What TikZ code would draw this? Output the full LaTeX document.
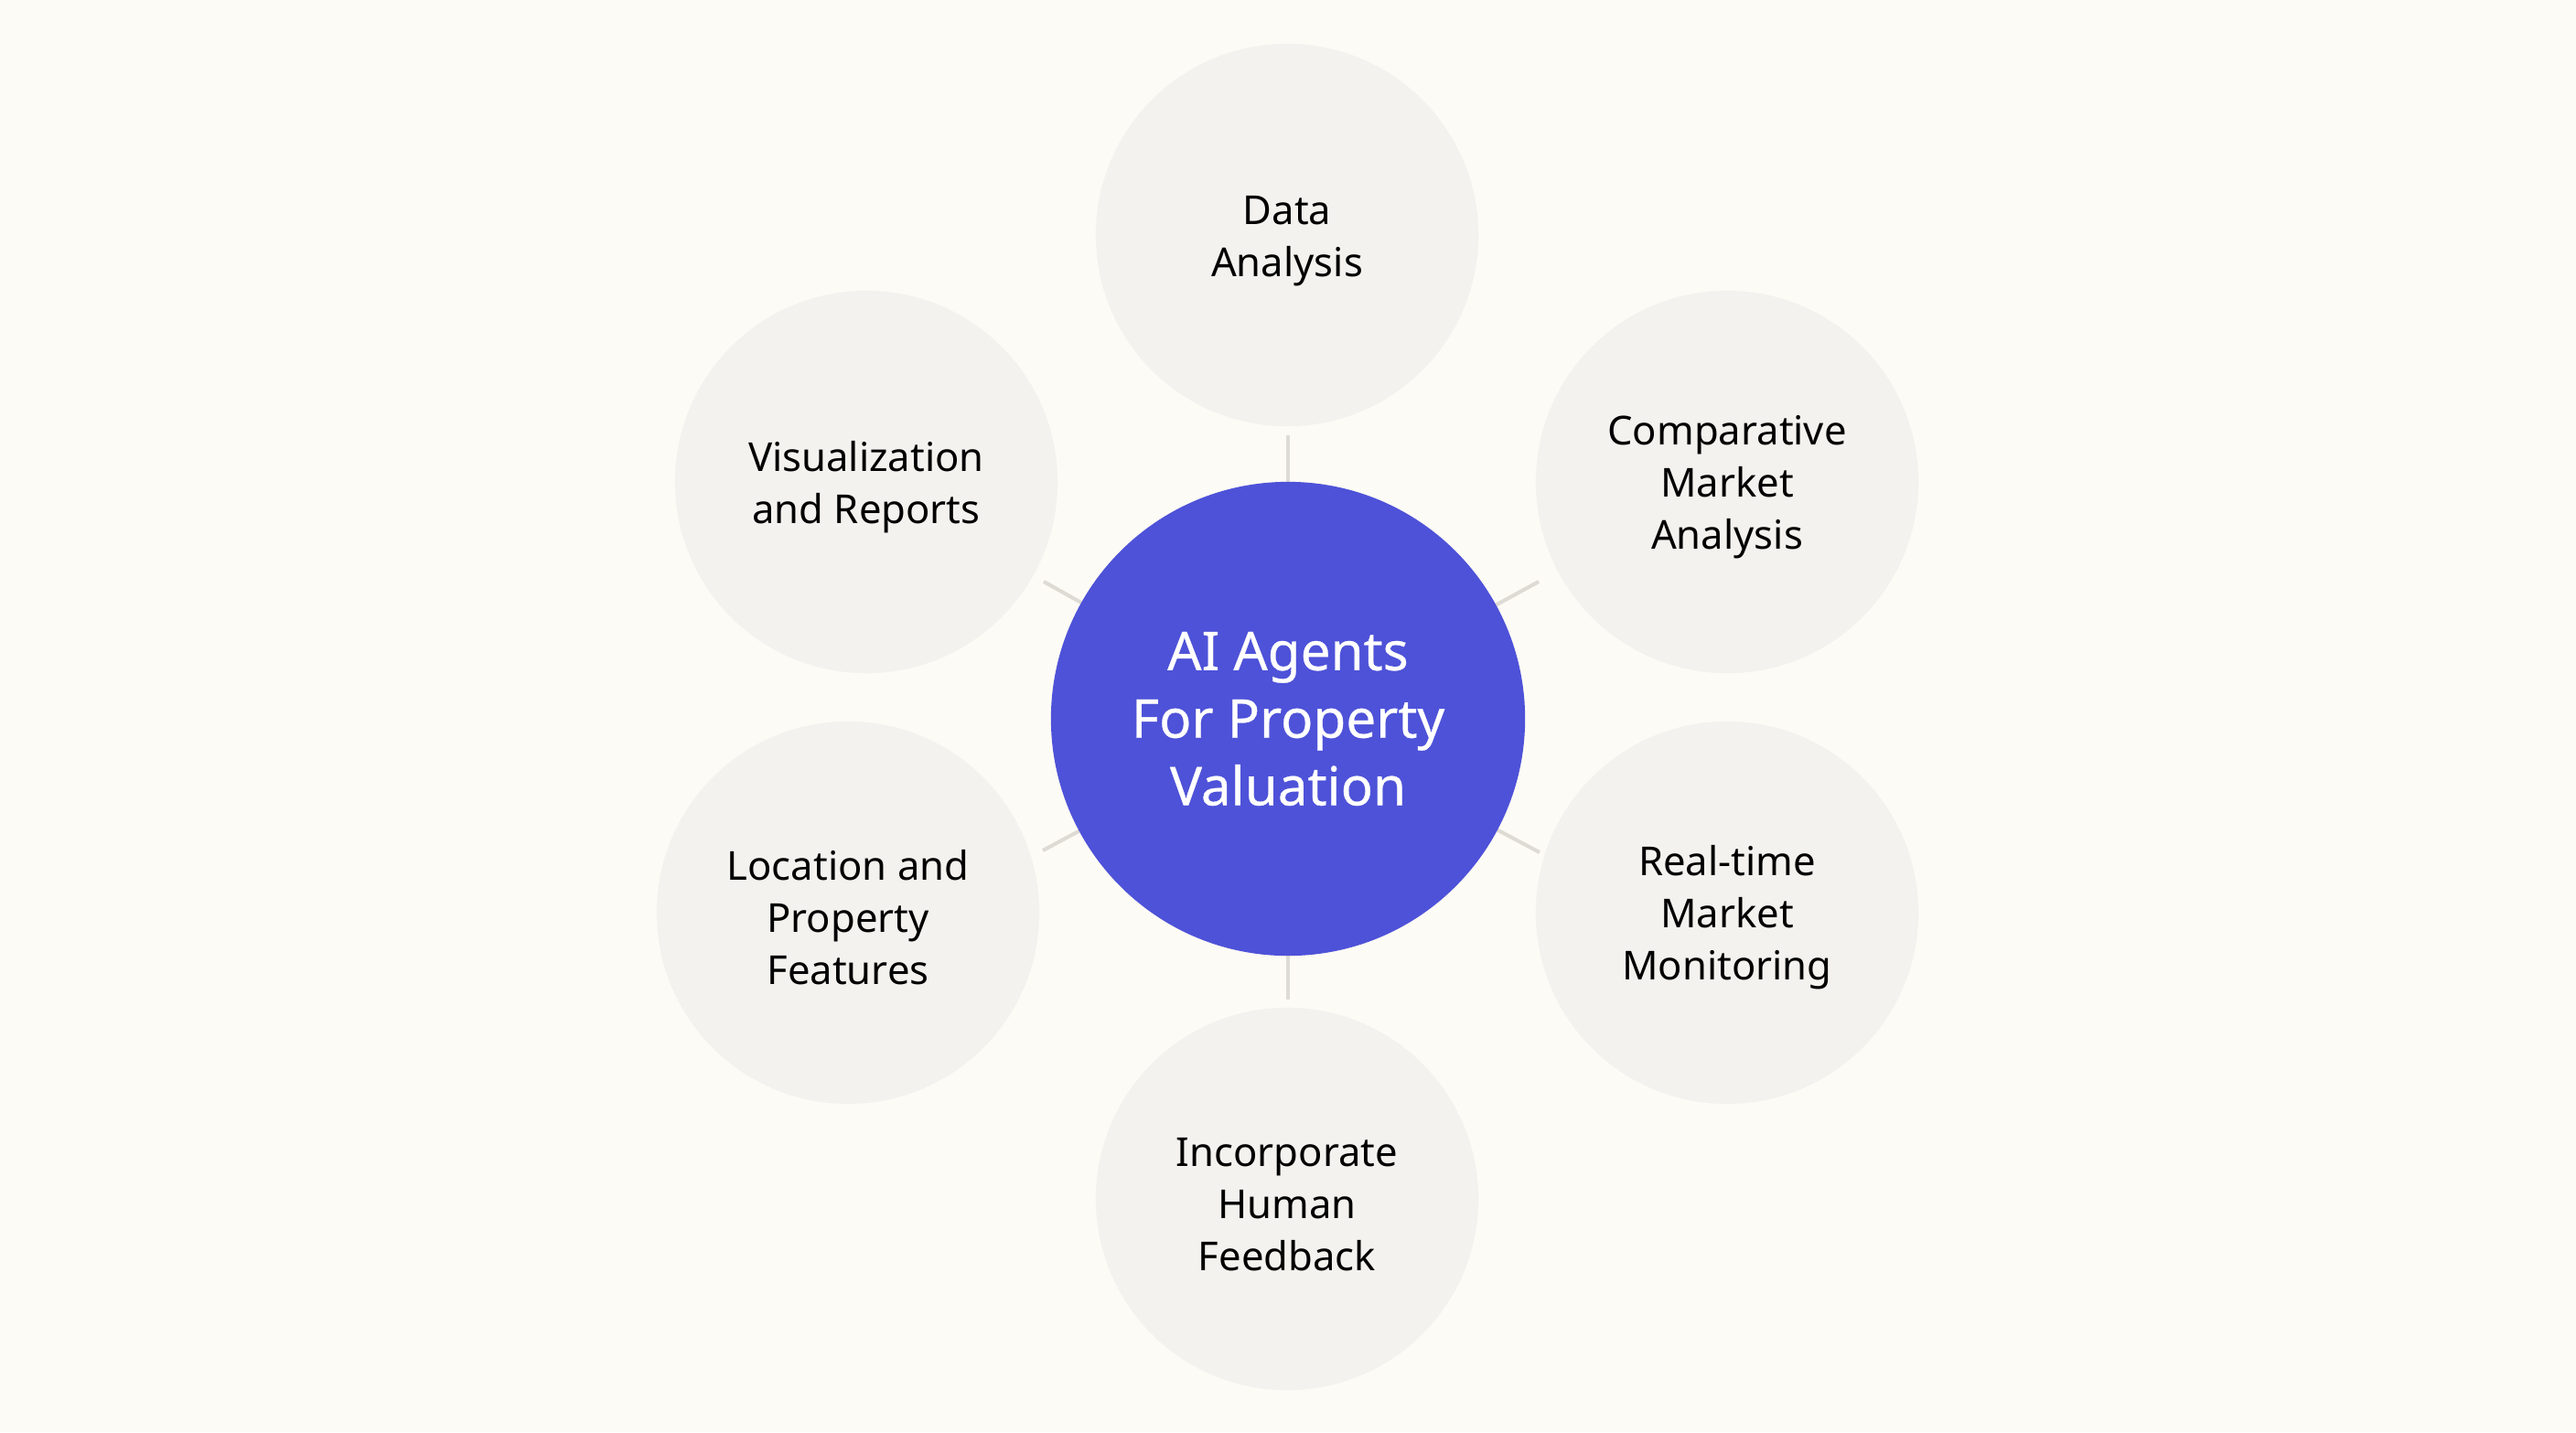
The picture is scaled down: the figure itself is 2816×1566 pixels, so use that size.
\documentclass[tikz,border=0pt]{standalone}
\usepackage{fontspec}
\setmainfont{Noto Sans}
\newfontfamily\hubfont{Noto Sans}[FakeBold=0.5]
\newcommand{\topstrut}{\rule{0pt}{12.4pt}}
\definecolor{bgcol}{HTML}{FDFBF5}
\definecolor{satfill}{HTML}{F3F2EE}
\definecolor{hubfill}{HTML}{4E52D8}
\definecolor{linkcol}{HTML}{DEDBD5}
\begin{document}
\begin{tikzpicture}[x=0.01cm,y=-0.01cm,
  sat/.style={circle, fill=satfill, minimum size=4.18cm, inner sep=0pt,
    align=center, font=\fontsize{12.4pt}{16.2pt}\selectfont, text=black},
  hub/.style={circle, fill=hubfill, minimum size=5.18cm, inner sep=0pt,
    align=center, font=\hubfont\fontsize{16.6pt}{21pt}\selectfont, text=white},
  link/.style={draw=linkcol, line width=1.15pt}]
\fill[bgcol] (0,0) rectangle (2816,1566);
\useasboundingbox (0,0) rectangle (2816,1566);
\coordinate (c) at (1408,786);
% connector free ends
\coordinate (eT) at (1408,476);
\coordinate (eB) at (1408,1093);
\coordinate (eUR) at (1682,636);
\coordinate (eLR) at (1683,932);
\coordinate (eUL) at (1141,636);
\coordinate (eLL) at (1140,930);
\foreach \e in {eT,eB,eUR,eLR,eUL,eLL} \draw[link] (c) -- (\e);
\node[hub] (hub) at (c) {AI Agents\\For Property\\Valuation};
\node[sat] (data) at (1407,257) {\topstrut Data\\Analysis};
\node[sat] (comp) at (1888,527) {\topstrut Comparative\\Market\\Analysis};
\node[sat] (real) at (1888,998) {\topstrut Real-time\\Market\\Monitoring};
\node[sat] (human) at (1407,1311) {\topstrut Incorporate\\Human\\Feedback};
\node[sat] (loc) at (927,998) {\topstrut Location and\\Property\\Features};
\node[sat] (vis) at (947,527) {\topstrut Visualization\\and Reports};
\end{tikzpicture}
\end{document}
